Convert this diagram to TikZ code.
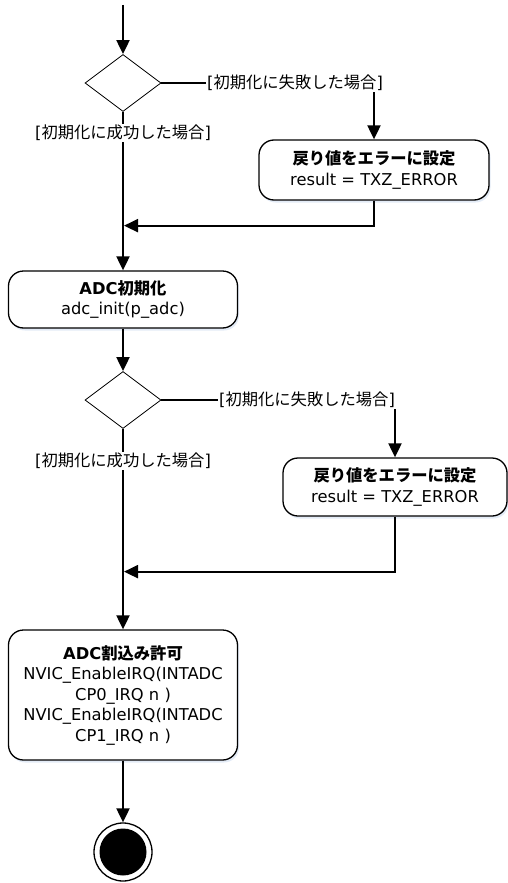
\documentclass[tikz,border=0pt]{standalone}
\usepackage{fontspec}
\setmainfont{DejaVu Sans}
\newfontfamily\jp{Noto Sans CJK JP}[Scale=1.0]
\usetikzlibrary{shapes.geometric,shadows,arrows.meta}
\pgfdeclarelayer{background}
\pgfdeclarelayer{foreground}
\pgfsetlayers{background,main,foreground}
\definecolor{shadowblue}{RGB}{200,215,238}
\tikzstyle{actbox}=[draw, line width=1.3pt, fill=white, rounded corners=15pt,
  align=center, inner sep=2pt,
  drop shadow={shadow xshift=1.5pt, shadow yshift=-2.5pt, fill=shadowblue}]
\tikzstyle{decision}=[diamond, draw, line width=0.8pt, fill=white, inner sep=0pt,
  minimum width=76pt, minimum height=57pt]
\tikzstyle{guard}=[fill=white, inner sep=1pt]
\tikzstyle{final}=[circle, draw, line width=1.3pt, fill=white, inner sep=0pt,
  minimum size=58pt]
\tikzstyle{finalin}=[circle, fill=black, inner sep=0pt, minimum size=47pt]
\tikzstyle{line}=[draw, line width=2pt, -{Triangle[length=14pt,width=13pt]}]
\tikzstyle{link}=[draw, line width=2pt]
\newcommand{\actbox}[3]{node (a#1) [actbox,#2] {#3}}

\begin{document}
\begin{tikzpicture}[x=1pt, y=1pt, font=\fontsize{16.3}{20.5}\selectfont]
\useasboundingbox (0,0) rectangle (507,-883);

% Draw diagram elements
\coordinate (start) at (123,-5);
\path (start) +(0,-78) node (d1) [decision] {};
\path (d1.center) +(251,-87) \actbox{1}{minimum width=230pt, minimum height=60pt}
  {\textbf{\jp 戻り値をエラーに設定}\\result = TXZ\_ERROR};
\path (d1.center) +(0,-216.5) \actbox{2}{minimum width=229pt, minimum height=57pt}
  {\textbf{ADC{\jp 初期化}}\\adc\_init(p\_adc)};

\path (a2.center) +(0,-100.5) node (d2) [decision] {};
\path (d2.center) +(272,-87) \actbox{3}{minimum width=224pt, minimum height=58pt}
  {\textbf{\jp 戻り値をエラーに設定}\\result = TXZ\_ERROR};
\path (d2.center) +(0,-295) \actbox{4}{minimum width=229pt, minimum height=130pt}
  {\textbf{ADC{\jp 割込み許可}}\\NVIC\_EnableIRQ(INTADC\\CP0\_IRQ n )\\
   NVIC\_EnableIRQ(INTADC\\CP1\_IRQ n )};

\path (a4.center) +(0,-157) node (end) [final] {};
\node (endin) [finalin] at (end) {};

% Guard labels
\begin{pgfonlayer}{foreground}
  \path (d1.center) +(172,0) node (g1) [guard] {[{\jp 初期化に失敗した場合}]};
  \path (d1.center) +(0,-50) node (g2) [guard] {[{\jp 初期化に成功した場合}]};
  \path (d2.center) +(184,0) node (g3) [guard] {[{\jp 初期化に失敗した場合}]};
  \path (d2.center) +(0,-61) node (g4) [guard] {[{\jp 初期化に成功した場合}]};
\end{pgfonlayer}

% Merge points
\path (a1.south) +(0,-25) coordinate (c1);
\path (a3.south) +(0,-55) coordinate (c2);

% Draw arrows between elements
\path [line] (start) -- (d1.north);
\path [line] (d1.south) -- (a2.north);
\path [link] (d1.east) -- (g1.west);
\path [line] (g1.south -| a1.north) -- (a1.north);
\path [line, shorten >=1pt] (a1.south) -- (c1) -- (c1 -| d1.center);

\path [line] (a2.south) -- (d2.north);
\path [line] (d2.south) -- (a4.north);
\path [link] (d2.east) -- (g3.west);
\path [line] (g3.center -| a3.north) -- (a3.north);
\path [line, shorten >=1pt] (a3.south) -- (c2) -- (c2 -| d2.center);

\path [line] (a4.south) -- (end.north);

\end{tikzpicture}
\end{document}
